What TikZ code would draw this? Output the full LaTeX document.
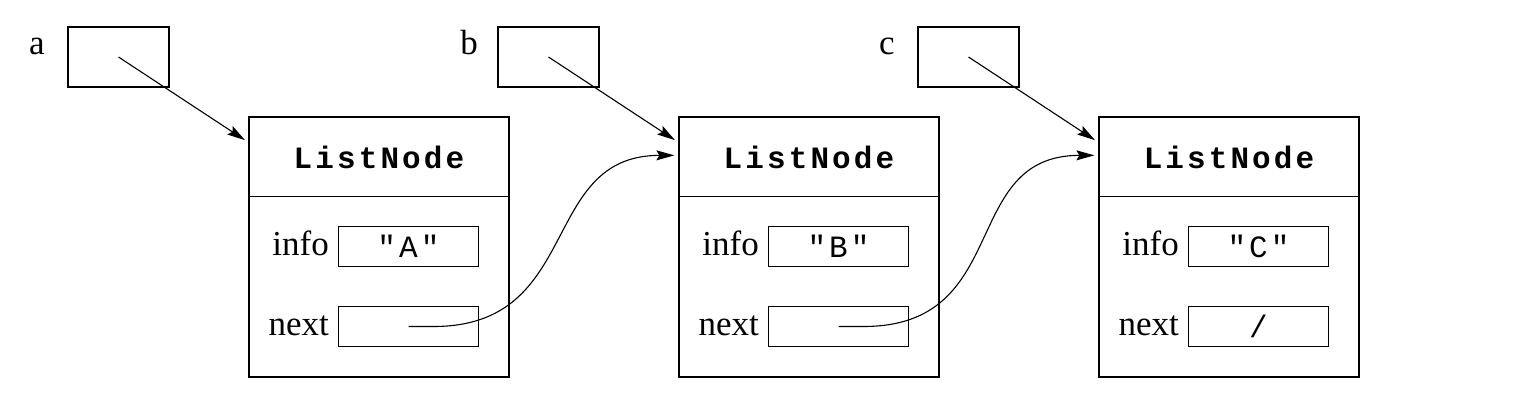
\documentclass[tikz,border=0pt]{standalone}
\usepackage{fontspec}
\setmainfont{Liberation Serif}
\setmonofont{Liberation Mono}
\usetikzlibrary{arrows.meta}
\def\codefont{\fontsize{31}{31}\selectfont\ttfamily\addfontfeature{LetterSpace=10}}
\tikzset{
	box/.style={draw, line width=1.3pt, inner sep=0pt},
	varbox/.style={box, minimum width=101pt, minimum height=60pt},
	objbox/.style={box, minimum width=260pt, minimum height=260pt},
	fieldbox/.style={box, minimum width=140pt, minimum height=40pt, font=\codefont},
	head/.style={font=\codefont\bfseries},
	word/.style={font=\fontsize{35}{35}\selectfont, inner sep=0pt},
	ptr/.style={line width=1.1pt, shorten >=4pt, -{Stealth[length=18pt,width=10pt,inset=3pt]}}
}

\begin{document}
\begin{tikzpicture}[x=1pt, y=-1pt]
			%%%%% START %%%%%
			\useasboundingbox (0, 0) rectangle (1521, 404);
			
			% variables
			\node[word, anchor=base] (la) at (37, 55) {a};
			\node[varbox] (a) at (118.5, 57) {};
			\node[word, anchor=base] (lb) at (469, 55) {b};
			\node[varbox] (b) at (548.5, 57) {};
			\node[word, anchor=base] (lc) at (887, 55) {c};
			\node[varbox] (c) at (968.5, 57) {};
			
			% first list node
			\node[objbox] (nodeA) at (379, 247) {};
			\node[head] (headA) at (379, 157) {ListNode};
			\draw[line width=1.3pt] (249, 196.5) -- (509, 196.5);
			\node[fieldbox] (infoA) at (408.5, 246.5) {"A"};
			\node[fieldbox] (nextA) at (408.5, 326.5) {};
			\node[word, anchor=base east] (liA) at (329, 255) {info};
			\node[word, anchor=base east] (lnA) at (329, 335) {next};
			
			% second list node
			\node[objbox] (nodeB) at (809, 247) {};
			\node[head] (headB) at (809, 157) {ListNode};
			\draw[line width=1.3pt] (679, 196.5) -- (939, 196.5);
			\node[fieldbox] (infoB) at (838.5, 246.5) {"B"};
			\node[fieldbox] (nextB) at (838.5, 326.5) {};
			\node[word, anchor=base east] (liB) at (759, 255) {info};
			\node[word, anchor=base east] (lnB) at (759, 335) {next};
			
			% third list node
			\node[objbox] (nodeC) at (1229, 247) {};
			\node[head] (headC) at (1229, 157) {ListNode};
			\draw[line width=1.3pt] (1099, 196.5) -- (1359, 196.5);
			\node[fieldbox] (infoC) at (1258.5, 246.5) {"C"};
			\node[fieldbox] (nextC) at (1258.5, 326.5) {/};
			\node[word, anchor=base east] (liC) at (1179, 255) {info};
			\node[word, anchor=base east] (lnC) at (1179, 335) {next};
			
			% pointers
			\draw[ptr] (a.center) -- ([yshift=-26pt]nodeA.north west);
			\draw[ptr] (b.center) -- ([yshift=-26pt]nodeB.north west);
			\draw[ptr] (c.center) -- ([yshift=-26pt]nodeC.north west);
			\draw[ptr] (nextA.center) -- +(25, 0) .. controls +(150, 0) and +(-140, 0) .. ([yshift=-39pt]nodeB.north west);
			\draw[ptr] (nextB.center) -- +(25, 0) .. controls +(150, 0) and +(-140, 0) .. ([yshift=-39pt]nodeC.north west);
			
			%%%%% END %%%%%
\end{tikzpicture}
\end{document}
